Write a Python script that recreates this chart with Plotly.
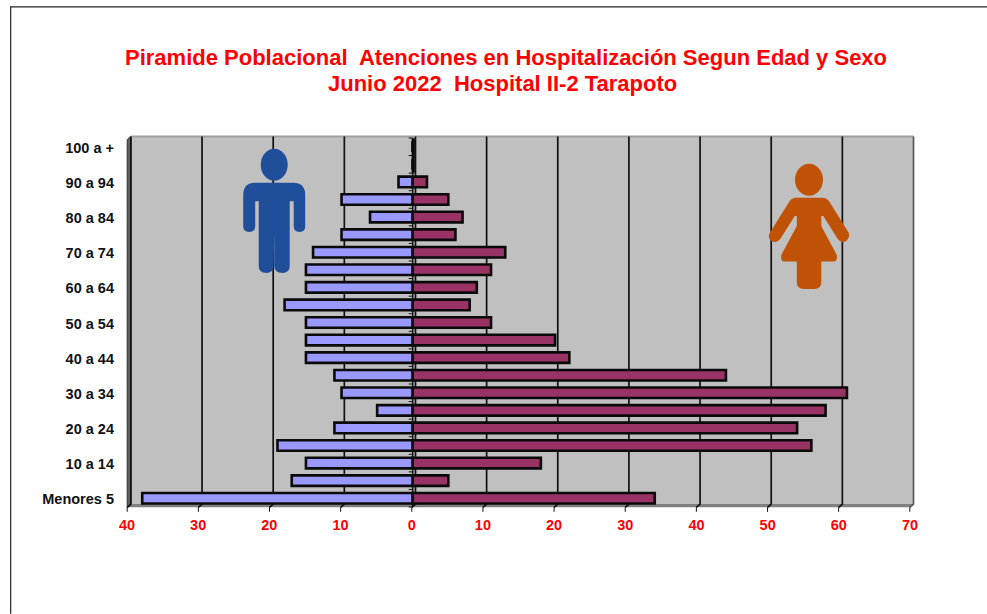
import plotly.graph_objects as go

categories = ["Menores 5","5 a 9","10 a 14","15 a 19","20 a 24","25 a 29","30 a 34","35 a 39","40 a 44","45 a 49",
              "50 a 54","55 a 59","60 a 64","65 a 69","70 a 74","75 a 79","80 a 84","85 a 89","90 a 94","95 a 99","100 a +"]
hombres = [38,17,15,19,11,5,10,11,15,15,15,18,15,15,14,10,6,10,2,0,0]
mujeres = [34,5,18,56,54,58,61,44,22,20,11,8,9,11,13,6,7,5,2,0,0]
shown_labels = categories[0::2]
x_ticks = [-40,-30,-20,-10,0,10,20,30,40,50,60,70]
x_labels = ["40","30","20","10","0","10","20","30","40","50","60","70"]
title_lines = ["Piramide Poblacional\u00a0 Atenciones en Hospitalización Segun Edad y Sexo",
               "Junio 2022\u00a0 Hospital II-2 Tarapoto"]

W, H = 987, 614
L, R, T, B = 127.8, 76.3, 137.8, 106.8
PW, PH = W - L - R, H - T - B
PPU = PW / 110

def px(x): return (x - L) / PW
def py(y): return 1 - (y - T) / PH
def path(cmds):
    out = []
    for c in cmds:
        if isinstance(c, str):
            out.append(c)
        else:
            out.append(" ".join(f"{px(c[i]):.5f},{py(c[i+1]):.5f}" for i in range(0, len(c), 2)))
    return " ".join(out)
def pshape(cmds, fill, line=None, lw=0, layer="below"):
    return dict(type="path", xref="paper", yref="paper", path=path(cmds), fillcolor=fill,
                line=dict(color=line or fill, width=lw), layer=layer)

DX, DY = 3.7, 3.2
x0, x1 = 127.0, 909.5
ybot = 507.5
top = 139.5
shapes = []
# wall, floor and side
shapes.append(pshape(["M",(x0+DX,ybot-DY),"L",(x1+DX,ybot-DY),"L",(x1+DX,top-DY),"L",(x0+DX,top-DY),"Z"], "#c0c0c0"))
shapes.append(pshape(["M",(x0,ybot),"L",(x0+DX,ybot-DY),"L",(x1+DX,ybot-DY),"L",(x1,ybot),"Z"], "#808080"))
shapes.append(pshape(["M",(x0,ybot),"L",(x0+DX,ybot-DY),"L",(x0+DX,top-DY),"L",(x0,top),"Z"], "#606060", "#303030", 1))
shapes.append(pshape(["M",(x0+DX,top-DY),"L",(x1+DX,top-DY)], "rgba(0,0,0,0)", "#a0a0a0", 2))
# gridlines on the back wall, carried across the floor
for i, v in enumerate(x_ticks):
    gx = x0 + (v + 40) * (x1 - x0) / 110 + DX
    col = "#5a5a5a" if v == 70 else "#111111"
    shapes.append(pshape(["M",(gx,top-DY),"L",(gx,ybot-DY),"L",(gx-DX,ybot)], "rgba(0,0,0,0)", col, 1.7))
    shapes.append(pshape(["M",(gx-DX,ybot),"L",(gx-DX,ybot+4.5)], "rgba(0,0,0,0)", "#111111", 1))
# row ticks on the vertical axis at zero
zx = L + 40 * PPU
for i in range(22):
    yy = (H - B) - i * PH / 21
    shapes.append(dict(type="line", xref="paper", yref="paper", x0=px(zx-4), x1=px(zx), y0=py(yy), y1=py(yy),
                       line=dict(color="#111111", width=1), layer="above"))
shapes.append(pshape(["M",(zx,T),"L",(zx,H-B)], "rgba(0,0,0,0)", "#111111", 1.5, "above"))
# the two empty top rows show only their outlines, merged with the axis
shapes.append(pshape(["M",(zx+0.5,T+0.5),"L",(zx+0.5,T+2*PH/21)], "rgba(0,0,0,0)", "#0a0a0a", 3.2, "above"))
# frame around the picture
shapes.append(pshape(["M",(10.5,H),"L",(10.5,6.5),"L",(W,6.5)], "rgba(0,0,0,0)", "#222222", 1.2))

# man icon
BLUE = "#1f4e9a"
def ellipse(cx, cy, rx, ry):
    k = 0.5523
    return ["M",(cx-rx,cy),"C",(cx-rx,cy-k*ry,cx-k*rx,cy-ry,cx,cy-ry),"C",(cx+k*rx,cy-ry,cx+rx,cy-k*ry,cx+rx,cy),
            "C",(cx+rx,cy+k*ry,cx+k*rx,cy+ry,cx,cy+ry),"C",(cx-k*rx,cy+ry,cx-rx,cy+k*ry,cx-rx,cy),"Z"]
shapes.append(pshape(ellipse(274,164.5,13.5,16), BLUE))
shapes.append(pshape([
    "M",(255,182.5),"L",(293,182.5),"Q",(305,182.5,305,195),"L",(305,226),
    "Q",(305,232,299.5,232),"Q",(293.5,232,293.5,226),"L",(293.5,201),"L",(289.5,201),
    "L",(289.5,266),"Q",(289.5,273,282,273),"Q",(274.5,273,274,266),"L",(274,232),"L",(273.5,266),
    "Q",(273,273,266,273),"Q",(258.5,273,258.5,266),"L",(258.5,201),"L",(255,201),"L",(255,226),
    "Q",(255,232,249,232),"Q",(243,232,243,226),"L",(243,195),"Q",(243,182.5,255,182.5),"Z"], BLUE))

# woman icon
ORANGE = "#bf5205"
shapes.append(pshape(ellipse(808.7,179.5,14,16), ORANGE))
shapes.append(pshape([
    "M",(796,197.5),"L",(822,197.5),"Q",(827,197.5,830,203),"L",(848,232),
    "Q",(850.5,237,846,241),"Q",(841,244,837.5,239),"L",(823,216),"L",(821,216),"L",(821,226),
    "L",(836.5,255),"Q",(837.5,261.5,833,261.5),"L",(821,261.5),"L",(821,282),
    "Q",(821,289,814,289),"L",(803.5,289),"Q",(796.5,289,796.5,282),"L",(796.5,261.5),
    "L",(784,261.5),"Q",(780,261,781,255),"L",(796.5,226),"L",(796.5,216),"L",(794.5,216),"L",(780,239),
    "Q",(776,244,771,241),"Q",(766.5,237,770,232),"L",(788,203),"Q",(791,197.5,796,197.5),"Z"], ORANGE))

fig = go.Figure()
fig.add_bar(y=categories, x=[-v for v in hombres], orientation="h", name="Hombres",
            marker=dict(color="#9999ff", line=dict(color="#0a0a0a", width=2.6)), width=0.6, cliponaxis=False)
fig.add_bar(y=categories, x=mujeres, orientation="h", name="Mujeres",
            marker=dict(color="#993366", line=dict(color="#0a0a0a", width=2.6)), width=0.6, cliponaxis=False)

annotations = [
    dict(text=title_lines[0], xref="paper", yref="paper", x=px(505.5), y=py(57.5), showarrow=False, xanchor="center", yanchor="middle",
         font=dict(family="Liberation Sans", size=22, color="#ff0000", weight="bold")),
    dict(text=title_lines[1], xref="paper", yref="paper", x=px(502.5), y=py(83), showarrow=False, xanchor="center", yanchor="middle",
         font=dict(family="Liberation Sans", size=22, color="#ff0000", weight="bold")),
]

fig.update_layout(
    width=W, height=H, margin=dict(l=L, r=R, t=T, b=B, pad=0, autoexpand=False),
    paper_bgcolor="white", plot_bgcolor="rgba(0,0,0,0)", showlegend=False,
    barmode="overlay", bargap=0.4, shapes=shapes, annotations=annotations,
    xaxis=dict(range=[-40,70], tickmode="array", tickvals=x_ticks, ticktext=x_labels, showgrid=False, zeroline=False,
               showline=False, ticks="", ticklabelstandoff=7, ticklabelshift=-1,
               tickfont=dict(family="Liberation Sans", size=14.5, color="#ff0000", weight="bold")),
    yaxis=dict(type="category", categoryorder="array", categoryarray=categories, range=[-0.5,20.5],
               tickmode="array", tickvals=shown_labels, ticktext=shown_labels, showgrid=False, zeroline=False,
               showline=False, ticks="", ticklabelstandoff=13, ticklabelshift=1,
               tickfont=dict(family="Liberation Sans", size=14.5, color="#111111", weight="bold")),
)
fig.write_html("out.html", config=dict(displayModeBar=False),
               post_script="document.body.style.margin='0';document.documentElement.style.overflow='hidden';")
